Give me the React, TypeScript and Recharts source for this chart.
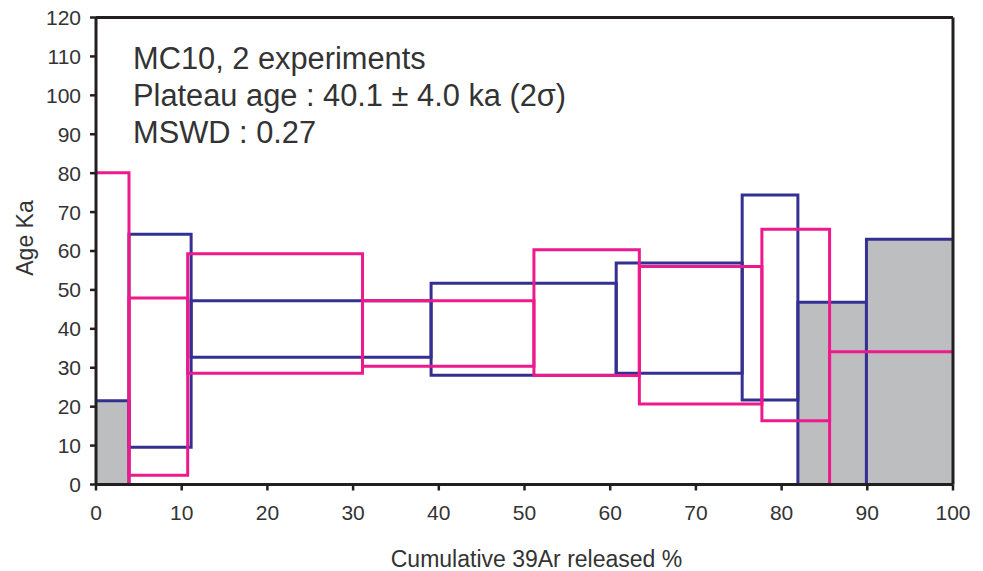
import { ComposedChart, XAxis, YAxis, ReferenceArea, ReferenceLine } from "recharts";

const ageTicks = [0, 10, 20, 30, 40, 50, 60, 70, 80, 90, 100, 110, 120];
const pctTicks = [0, 10, 20, 30, 40, 50, 60, 70, 80, 90, 100];

// experiment 1 (blue): cumulative 39Ar bounds (%) and age range (ka) per step
const blueStart = [0, 3.85, 11.1, 39.1, 60.7, 75.4, 81.9, 89.9];
const blueEnd = [3.85, 11.1, 39.1, 60.7, 75.4, 81.9, 89.9, 100];
const blueLow = [0, 9.6, 32.7, 28.1, 28.6, 21.7, 0, 0];
const blueHigh = [21.5, 64.3, 47.2, 51.7, 56.9, 74.4, 46.8, 63.0];
const blueExcluded = [true, false, false, false, false, false, true, true];

// experiment 2 (magenta)
const pinkStart = [0, 3.85, 10.7, 31.1, 51.1, 63.4, 77.7, 85.6];
const pinkEnd = [3.85, 10.7, 31.1, 51.1, 63.4, 77.7, 85.6, 100];
const pinkLow = [0, 2.4, 28.6, 30.4, 28.0, 20.7, 16.4, 0];
const pinkHigh = [80.1, 47.9, 59.3, 47.2, 60.3, 56.0, 65.6, 34.1];

const notes = ["MC10, 2 experiments", "Plateau age : 40.1 ± 4.0 ka (2σ)", "MSWD : 0.27"];

const BLUE = "#343092";
const PINK = "#ec1a8c";
const GRAY = "#bdbec0";
const AXIS = "#231f20";
const FONT = "'Liberation Sans', Arial, sans-serif";

type Step = { x1: number; x2: number; y1: number; y2: number };

// box outline; sides lying on the frame (x = 0, x = 100, age = 0) are left to the frame
function stepShape(s: Step, stroke: string, fill: string) {
  return (p: any) => {
    const { x, y, width, height } = p;
    const l = x, r = x + width, t = y, b = y + height;
    let d = s.x1 === 0 ? `M${l},${t}` : `M${l},${b}L${l},${t}`;
    d += `L${r},${t}`;
    if (s.x2 !== 100) d += `L${r},${b}`;
    if (s.y1 !== 0) d += s.x2 !== 100 && s.x1 !== 0 ? "Z" : `M${r},${b}L${l},${b}`;
    return (
      <g>
        {fill !== "none" && <rect x={x} y={y} width={width} height={height} fill={fill} />}
        <path d={d} fill="none" stroke={stroke} strokeWidth={3} />
      </g>
    );
  };
}

export default function App() {
  const blue = blueStart.map((s, i) => ({
    x1: s, x2: blueEnd[i], y1: blueLow[i], y2: blueHigh[i], gray: blueExcluded[i],
  }));
  const pink = pinkStart.map((s, i) => ({
    x1: s, x2: pinkEnd[i], y1: pinkLow[i], y2: pinkHigh[i],
  }));

  return (
    <div style={{ position: "absolute", left: 0, top: 0, width: 983, height: 571, background: "#fff", fontFamily: FONT }}>
      <ComposedChart
        width={983}
        height={571}
        margin={{ top: 17.5, right: 30, bottom: 56.5, left: 36 }}
        style={{ fontFamily: FONT }}
      >
        {/* excluded steps first, then the rest of experiment 1, then experiment 2 */}
        {blue.filter((b) => b.gray).map((b, i) => (
          <ReferenceArea
            key={`bg${i}`}
            x1={b.x1}
            x2={b.x2}
            y1={b.y1}
            y2={b.y2}
            shape={stepShape(b, BLUE, GRAY)}
          />
        ))}
        {blue.filter((b) => !b.gray).map((b, i) => (
          <ReferenceArea
            key={`b${i}`}
            x1={b.x1}
            x2={b.x2}
            y1={b.y1}
            y2={b.y2}
            shape={stepShape(b, BLUE, "none")}
          />
        ))}
        {pink.map((b, i) => (
          <ReferenceArea
            key={`p${i}`}
            x1={b.x1}
            x2={b.x2}
            y1={b.y1}
            y2={b.y2}
            shape={stepShape(b, PINK, "none")}
          />
        ))}

        {/* frame */}
        <ReferenceLine y={120} stroke={AXIS} strokeWidth={3} />
        <ReferenceLine x={100} stroke={AXIS} strokeWidth={3} />

        <XAxis
          type="number"
          dataKey="x"
          domain={[0, 100]}
          ticks={pctTicks}
          allowDataOverflow
          height={30}
          axisLine={{ stroke: AXIS, strokeWidth: 3 }}
          tickLine={{ stroke: AXIS, strokeWidth: 2.5 }}
          tickSize={6}
          tickMargin={15}
          tick={{ fill: "#333", fontSize: 21, fontFamily: FONT }}
          label={{
            content: ({ viewBox }: any) => (
              <text
                x={viewBox.x + viewBox.width / 2 + 12}
                y={viewBox.y + 82}
                textAnchor="middle"
                fill="#333"
                fontSize={23}
                fontFamily={FONT}
              >
                Cumulative 39Ar released %
              </text>
            ),
          }}
        />
        <YAxis
          type="number"
          domain={[0, 120]}
          ticks={ageTicks}
          allowDataOverflow
          width={60}
          axisLine={{ stroke: AXIS, strokeWidth: 3 }}
          tickLine={{ stroke: AXIS, strokeWidth: 2.5 }}
          tickSize={6}
          tickMargin={9}
          tick={{ fill: "#333", fontSize: 21, fontFamily: FONT }}
          label={{
            content: ({ viewBox }: any) => {
              const cx = viewBox.x - 11;
              const cy = viewBox.y + viewBox.height / 2 - 13;
              return (
                <text
                  x={cx}
                  y={cy}
                  transform={`rotate(-90 ${cx} ${cy})`}
                  textAnchor="middle"
                  dominantBaseline="central"
                  fill="#333"
                  fontSize={23}
                  fontFamily={FONT}
                >
                  Age Ka
                </text>
              );
            },
          }}
        />
      </ComposedChart>

      <div style={{ position: "absolute", left: 133, top: 40, fontSize: 30.8, lineHeight: "37px", color: "#333" }}>
        {notes.map((n) => (
          <div key={n}>{n}</div>
        ))}
      </div>
    </div>
  );
}
